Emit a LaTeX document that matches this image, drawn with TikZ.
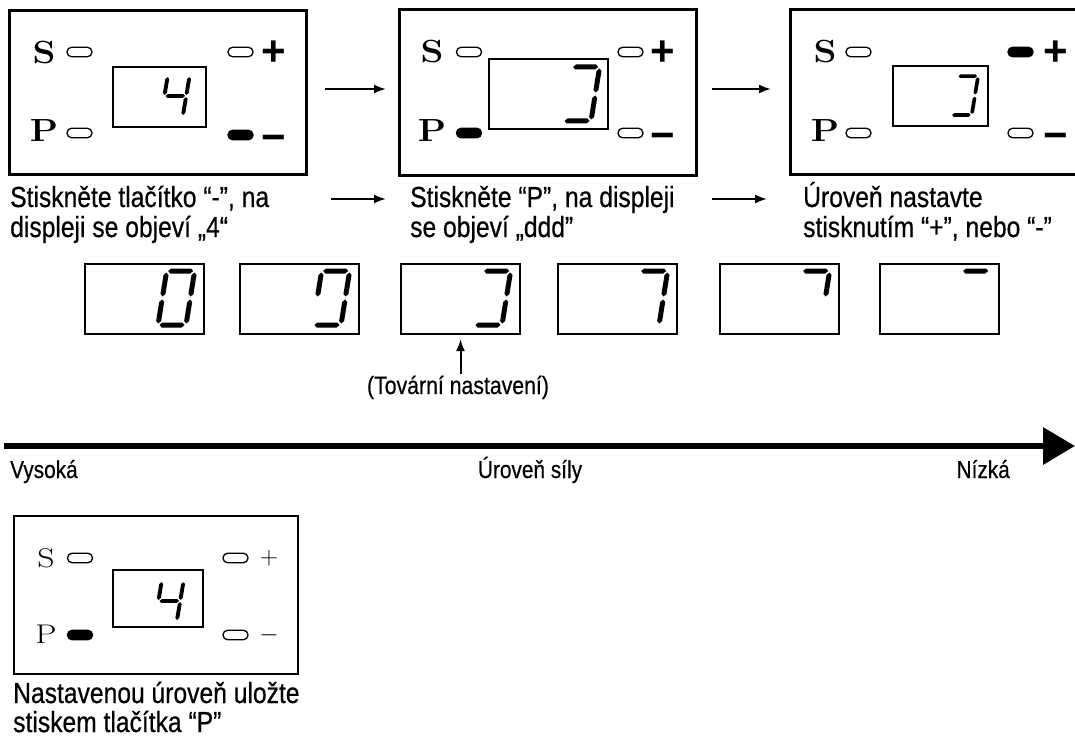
\documentclass[tikz,border=0pt]{standalone}
\usepackage{fontspec}
\usepackage{graphicx}
\usetikzlibrary{arrows.meta}
\newfontfamily\cond{Liberation Sans}[FakeStretch=0.85,FakeBold=0.5]
\newfontfamily\plusfont{Liberation Sans}
\newcommand\dghs[3]{\fill (#1,#3) -- ({#1+2.5},{#3+2.5}) -- ({#2-2.5},{#3+2.5}) -- (#2,#3) -- ({#2-2.5},{#3-2.5}) -- ({#1+2.5},{#3-2.5}) -- cycle;}
\newcommand\dgvs[3]{\fill (#1,#2) -- ({#1+2.5},{#2+2.5}) -- ({#1+2.5},{#3-2.5}) -- (#1,#3) -- ({#1-2.5},{#3-2.5}) -- ({#1-2.5},{#2+2.5}) -- cycle;}
\newcommand\dgsega{\dghs{1.5}{26.5}{54}}
\newcommand\dgsegb{\dgvs{28}{28.5}{52.5}}
\newcommand\dgsegc{\dgvs{28}{1.5}{25.5}}
\newcommand\dgsegd{\dghs{1.5}{26.5}{0}}
\newcommand\dgsege{\dgvs{0}{1.5}{25.5}}
\newcommand\dgsegf{\dgvs{0}{28.5}{52.5}}
\newcommand\dgsegg{\dghs{1.5}{26.5}{27}}
\newcommand\sevdig[5]{%
  \begin{scope}[shift={(#1,#2)}, yscale=-1, xscale=#3, yscale=#4, xslant=-0.16]
    \foreach \s in {#5} {\csname dgseg\s\endcsname}
  \end{scope}}
\tikzset{
  panel/.style={draw, line width=2.6pt, inner sep=0, anchor=north west},
  disp/.style={draw, line width=2pt, inner sep=0, anchor=north west},
  btn/.style={draw, line width=1.3pt, rounded corners=4.6pt, minimum width=25pt, minimum height=9.5pt, inner sep=0},
  btnon/.style={btn, fill=black},
  lbl/.style={inner sep=0, font=\fontsize{32}{32}\selectfont\bfseries},
  lblthin/.style={inner sep=0, font=\fontsize{27}{27}\selectfont},
  pm/.style={inner sep=0, font=\plusfont\bfseries\fontsize{42}{42}\selectfont},
  pmthin/.style={inner sep=0, font=\fontsize{27}{27}\selectfont},
  captxt/.style={inner sep=0, anchor=base west, font=\cond\fontsize{29}{30}\selectfont},
  axtxt/.style={inner sep=0, anchor=base west, font=\cond\fontsize{24.5}{26}\selectfont},
  arr/.style={line width=2pt, -{Latex[length=12pt,width=9pt]}},
}
\begin{document}
\begin{tikzpicture}[x=1pt, y=-1pt]
\useasboundingbox (0,0) rectangle (1075,738);

% ---------- panel 1 ----------
\node[panel, minimum width=297pt, minimum height=164pt] (p1) at (8,9) {};
\node[disp, minimum width=93pt, minimum height=60pt] (d1) at (112,66) {};
\sevdig{161}{116}{0.78}{0.74}{f,g,b,c}
\node[lbl] (p1S) at (44,53) {\scalebox{1.15}[1]{S}};
\node[lbl] (p1P) at (44,131) {\scalebox{1.15}[1]{P}};
\node[btn] (p1bs) at (79.5,52) {};
\node[btn] (p1bp) at (79.5,133) {};
\node[btn] (p1bplus) at (240.5,52) {};
\node[btnon] (p1bminus) at (240.5,135) {};
\node[pm] (p1plus) at (274,53) {+};
\node[pm] (p1minus) at (274,143) {−};

% ---------- panel 2 ----------
\node[panel, minimum width=297pt, minimum height=166pt] (p2) at (398,8) {};
\node[disp, minimum width=119pt, minimum height=70pt] (d2) at (488,58) {};
\sevdig{563}{121}{1}{1}{a,b,c,d}
\node[lbl] (p2S) at (432,52) {\scalebox{1.15}[1]{S}};
\node[lbl] (p2P) at (432,131) {\scalebox{1.15}[1]{P}};
\node[btn] (p2bs) at (469,52) {};
\node[btnon] (p2bp) at (469,133) {};
\node[btn] (p2bplus) at (630.5,52) {};
\node[btn] (p2bminus) at (630.5,133) {};
\node[pm] (p2plus) at (663,53) {+};
\node[pm] (p2minus) at (663,141) {−};

% ---------- panel 3 ----------
\node[panel, minimum width=300pt, minimum height=165pt] (p3) at (789,8) {};
\node[disp, minimum width=95pt, minimum height=60pt] (d3) at (892,65) {};
\sevdig{951}{115}{0.74}{0.72}{a,b,c,d}
\node[lbl] (p3S) at (825,52) {\scalebox{1.15}[1]{S}};
\node[lbl] (p3P) at (825,131) {\scalebox{1.15}[1]{P}};
\node[btn] (p3bs) at (858.5,52) {};
\node[btn] (p3bp) at (858.5,133) {};
\node[btnon] (p3bplus) at (1020.5,52) {};
\node[btn] (p3bminus) at (1020.5,133) {};
\node[pm] (p3plus) at (1056,53) {+};
\node[pm] (p3minus) at (1056,141) {−};

% ---------- arrows between panels ----------
\coordinate (a1s) at (325,89);  \coordinate (a1e) at (386,89);
\coordinate (a2s) at (712,89);  \coordinate (a2e) at (771,89);
\coordinate (a3s) at (331,199); \coordinate (a3e) at (386,199);
\coordinate (a4s) at (712,199); \coordinate (a4e) at (767,199);
\draw[arr] (a1s) -- (a1e);
\draw[arr] (a2s) -- (a2e);
\draw[arr] (a3s) -- (a3e);
\draw[arr] (a4s) -- (a4e);

% ---------- captions ----------
\node[captxt] (c1a) at (10,207) {Stiskněte tlačítko “-”, na};
\node[captxt] (c1b) at (10,237) {displeji se objeví „4“};
\node[captxt] (c2a) at (410,207) {Stiskněte “P”, na displeji};
\node[captxt] (c2b) at (410,237) {se objeví „ddd”};
\node[captxt] (c3a) at (803,207) {Úroveň nastavte};
\node[captxt] (c3b) at (803,237) {stisknutím “+”, nebo “-”};

% ---------- row of displays ----------
\node[disp, minimum width=119pt, minimum height=70pt] (r1) at (84,263) {};
\node[disp, minimum width=119pt, minimum height=70pt] (r2) at (239,263) {};
\node[disp, minimum width=119pt, minimum height=70pt] (r3) at (400,263) {};
\node[disp, minimum width=119pt, minimum height=70pt] (r4) at (557,263) {};
\node[disp, minimum width=119pt, minimum height=70pt] (r5) at (719,263) {};
\node[disp, minimum width=119pt, minimum height=70pt] (r6) at (879,263) {};
\sevdig{158}{325}{1}{1}{a,b,c,d,e,f}
\sevdig{313}{325}{1}{1}{a,b,c,d,f}
\sevdig{474}{325}{1}{1}{a,b,c,d}
\sevdig{631}{325}{1}{1}{a,b,c}
\sevdig{793}{325}{1}{1}{a,b}
\sevdig{953}{325}{1}{1}{a}

% ---------- factory setting ----------
\node[axtxt, anchor=base, font=\cond\fontsize{25}{26}\selectfont] (tov) at (458,394) {(Tovární nastavení)};
\draw[arr, shorten >=4pt, shorten <=1pt] (tov.north -| r3.south) -- (r3.south);

% ---------- big arrow ----------
\coordinate (bs) at (4,446);
\coordinate (be) at (1075,446);
\draw[line width=6.5pt, -{Triangle[length=32pt,width=36pt]}] (bs) -- (be);
\node[axtxt] (hi) at (10,478) {Vysoká};
\node[axtxt, anchor=base] (mid) at (530,478) {Úroveň síly};
\node[axtxt, anchor=base east] (lo) at (1010,478) {Nízká};

% ---------- panel 4 ----------
\node[panel, line width=2.2pt, minimum width=284pt, minimum height=158pt] (p4) at (13,515) {};
\node[disp, minimum width=90pt, minimum height=57pt] (d4) at (112,569) {};
\sevdig{155}{621}{0.78}{0.74}{f,g,b,c}
\node[lblthin] (p4S) at (46,558) {\scalebox{1.25}[1]{S}};
\node[lblthin] (p4P) at (46,634) {\scalebox{1.25}[1]{P}};
\node[btn] (p4bs) at (80,558) {};
\node[btnon] (p4bp) at (80,635) {};
\node[btn] (p4bplus) at (235.5,558) {};
\node[btn] (p4bminus) at (235.5,635) {};
\node[pmthin] (p4plus) at (269,558) {$+$};
\node[pmthin] (p4minus) at (269,635) {$-$};
\node[captxt] (c4a) at (13,703) {Nastavenou úroveň uložte};
\node[captxt] (c4b) at (13,732) {stiskem tlačítka “P”};
\end{tikzpicture}
\end{document}
